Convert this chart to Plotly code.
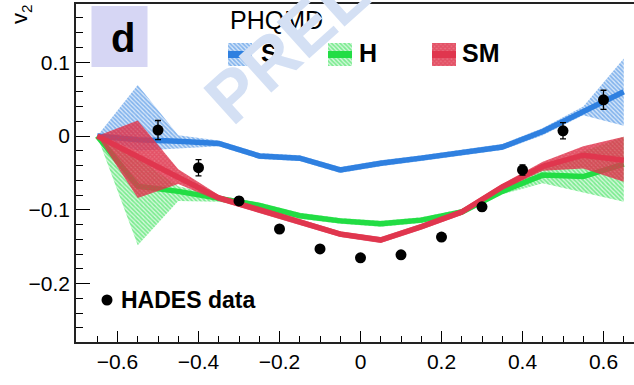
import plotly.graph_objects as go

# ---- HADES measurement: v2 versus rapidity ----
y_data = [-0.5, -0.4, -0.3, -0.2, -0.1, 0.0, 0.1, 0.2, 0.3, 0.4, 0.5, 0.6]
v2_data = [0.008, -0.043, -0.088, -0.126, -0.153, -0.165, -0.161, -0.137, -0.096, -0.046, 0.007, 0.049]
v2_err = [0.013, 0.011, 0.005, 0.004, 0.004, 0.004, 0.004, 0.004, 0.005, 0.007, 0.011, 0.013]

# ---- PHQMD model curves (centre and band edges) ----
y_model = [-0.65, -0.55, -0.45, -0.35, -0.25, -0.15, -0.05, 0.05, 0.15, 0.25, 0.35, 0.45, 0.55, 0.65]

s_mid = [0.0, -0.005, -0.007, -0.010, -0.027, -0.030, -0.046, -0.037, -0.030, -0.023, -0.015, 0.006, 0.033, 0.060]
s_hi = [0.0, 0.069, 0.001, -0.006, -0.023, -0.026, -0.042, -0.033, -0.026, -0.019, -0.011, 0.011, 0.040, 0.105]
s_lo = [0.0, -0.020, -0.017, -0.014, -0.031, -0.034, -0.050, -0.041, -0.034, -0.027, -0.019, 0.001, 0.028, 0.014]

h_mid = [0.0, -0.068, -0.075, -0.085, -0.094, -0.108, -0.115, -0.119, -0.114, -0.103, -0.075, -0.053, -0.055, -0.038]
h_hi = [0.0, -0.030, -0.068, -0.081, -0.090, -0.104, -0.111, -0.115, -0.110, -0.099, -0.071, -0.042, -0.021, -0.001]
h_lo = [0.0, -0.148, -0.088, -0.089, -0.098, -0.112, -0.119, -0.123, -0.118, -0.107, -0.079, -0.064, -0.076, -0.089]

sm_mid = [0.0, -0.028, -0.057, -0.084, -0.100, -0.117, -0.133, -0.141, -0.123, -0.103, -0.069, -0.041, -0.026, -0.033]
sm_hi = [0.0, 0.021, -0.045, -0.080, -0.096, -0.113, -0.129, -0.137, -0.119, -0.099, -0.065, -0.035, -0.014, -0.001]
sm_lo = [0.0, -0.084, -0.065, -0.088, -0.104, -0.121, -0.137, -0.145, -0.127, -0.107, -0.073, -0.047, -0.044, -0.062]

model_names = ["S", "H", "SM"]
model_rgb = [(47, 128, 224), (34, 221, 68), (224, 54, 78)]
hatch_shapes = ["\\", "\\", "x"]
hatch_solidity = [0.55, 0.55, 0.7]
hatch_bg_alpha = [0.2, 0.2, 0.72]

x_ticks = [-0.6, -0.4, -0.2, 0.0, 0.2, 0.4, 0.6]
y_ticks = [-0.2, -0.1, 0.0, 0.1]

# ---- layout geometry (pixels) ----
W, H = 634, 385
M_L, M_R, M_T, M_B = 76, 0, 4, 43
PX_L, PX_R, PX_T, PX_B = M_L, W - M_R, M_T, H - M_B


def px(xp, yp):
    """Pixel position -> paper coordinates of the plot area."""
    return (xp - PX_L) / (PX_R - PX_L), (PX_B - yp) / (PX_B - PX_T)


def rgb(c, a=1.0):
    return f"rgba({c[0]},{c[1]},{c[2]},{a})"


def hatch(c, shp, sol, bga):
    return dict(shape=shp, fgcolor=rgb(c), bgcolor=rgb(c, bga), size=3, solidity=sol)


FONT = "Liberation Sans, Arial, sans-serif"

fig = go.Figure()

mids = [s_mid, h_mid, sm_mid]
his = [s_hi, h_hi, sm_hi]
los = [s_lo, h_lo, sm_lo]

# each model: hatched uncertainty band, then its central line (S, H, SM stacked in that order)
for name, c, mid, hi, lo, shp, sol, bga in zip(model_names, model_rgb, mids, his, los,
                                               hatch_shapes, hatch_solidity, hatch_bg_alpha):
    fig.add_trace(go.Scatter(
        x=y_model + y_model[::-1],
        y=hi + lo[::-1],
        mode="lines", line=dict(width=0, color=rgb(c)),
        fill="toself", fillcolor="rgba(0,0,0,0)",
        fillpattern=hatch(c, shp, sol, bga),
        showlegend=False, hoverinfo="skip", name=name,
    ))
    fig.add_trace(go.Scatter(
        x=y_model, y=mid, mode="lines",
        line=dict(color=rgb(c), width=5.5),
        showlegend=False, name=name,
    ))

# HADES points
fig.add_trace(go.Scatter(
    x=y_data, y=v2_data, mode="markers",
    marker=dict(color="black", size=11, symbol="circle"),
    error_y=dict(type="data", array=v2_err, color="black", thickness=1.3, width=3),
    showlegend=False, name="HADES data",
))

# ---- key, drawn on an overlay axis measured in pixels ----
key_patch_x = [(228, 252), (328, 352), (432, 456)]
key_label_x = [259, 357, 460]
key_top, key_bot, key_mid = 43, 66, 54.5
for name, c, (x0, x1), shp, sol, bga in zip(model_names, model_rgb, key_patch_x,
                                            hatch_shapes, hatch_solidity, hatch_bg_alpha):
    fig.add_trace(go.Scatter(
        x=[x0, x1, x1, x0, x0], y=[key_top, key_top, key_bot, key_bot, key_top],
        xaxis="x2", yaxis="y2", mode="lines", line=dict(width=0, color=rgb(c)),
        fill="toself", fillcolor="rgba(0,0,0,0)",
        fillpattern=hatch(c, shp, sol, bga),
        showlegend=False, hoverinfo="skip",
    ))
    fig.add_trace(go.Scatter(
        x=[x0, x1], y=[key_mid, key_mid], xaxis="x2", yaxis="y2",
        mode="lines", line=dict(color=rgb(c), width=7),
        showlegend=False, hoverinfo="skip",
    ))

fig.add_trace(go.Scatter(
    x=[107], y=[300], xaxis="x2", yaxis="y2", mode="markers",
    marker=dict(color="black", size=11), showlegend=False, hoverinfo="skip",
))

annotations = []
for name, lx in zip(model_names, key_label_x):
    ax, ay = px(lx, 53)
    annotations.append(dict(x=ax, y=ay, xref="paper", yref="paper", text=name,
                            showarrow=False, xanchor="left", yanchor="middle",
                            font=dict(family=FONT, size=25, color="black", weight="bold")))

ax, ay = px(228, 20)
annotations.append(dict(x=ax, y=ay, xref="paper", yref="paper", text="PHQMD",
                        showarrow=False, xanchor="left", yanchor="middle",
                        font=dict(family=FONT, size=25, color="black")))

ax, ay = px(119, 300)
annotations.append(dict(x=ax, y=ay, xref="paper", yref="paper", text="HADES data",
                        showarrow=False, xanchor="left", yanchor="middle",
                        font=dict(family=FONT, size=23, color="black", weight="bold")))

# panel tag
ax, ay = px(122.5, 38)
annotations.append(dict(x=ax, y=ay, xref="paper", yref="paper", text="d",
                        showarrow=False, xanchor="center", yanchor="middle",
                        font=dict(family=FONT, size=40, color="black", weight="bold")))

# y-axis title
ax, ay = px(21, 14)
annotations.append(dict(x=ax, y=ay, xref="paper", yref="paper", text="v<sub>2</sub>",
                        showarrow=False, xanchor="center", yanchor="middle", textangle=-90,
                        font=dict(family=FONT, size=22, color="black")))

# preliminary stamp
ax, ay = px(397, -53)
annotations.append(dict(x=ax, y=ay, xref="paper", yref="paper", text="PRELIMINARY",
                        showarrow=False, xanchor="center", yanchor="middle", textangle=-42,
                        font=dict(family=FONT, size=71, color="rgb(212,224,244)", weight="bold")))

bx0, by0 = px(91.5, 67)
bx1, by1 = px(147.5, 6)
shapes = [dict(type="rect", xref="paper", yref="paper", x0=bx0, x1=bx1, y0=by0, y1=by1,
               fillcolor="#d6d6f4", line=dict(width=0), layer="below")]

x_lo = (PX_L - 360.5) / 405.0
x_hi = (PX_R - 360.5) / 405.0
y_top = (136.0 - PX_T) / 738.0
y_bot = (136.0 - PX_B) / 738.0

fig.update_layout(
    width=W, height=H,
    margin=dict(l=M_L, r=M_R, t=M_T, b=M_B, pad=0),
    paper_bgcolor="white", plot_bgcolor="white",
    font=dict(family=FONT, color="black"),
    showlegend=False,
    annotations=annotations,
    shapes=shapes,
    xaxis=dict(
        range=[x_lo, x_hi], tickvals=x_ticks, ticks="inside", ticklen=11, tickwidth=1.3,
        tickcolor="black", showline=True, linecolor="#222", linewidth=1.5, mirror=True,
        showgrid=False, zeroline=False, tickfont=dict(size=21, family=FONT, color="black"),
        minor=dict(dtick=0.05, tick0=0, ticks="inside", ticklen=6, tickwidth=1.2, tickcolor="black", showgrid=False),
    ),
    yaxis=dict(
        range=[y_bot, y_top], tickvals=y_ticks, ticks="inside", ticklen=14, tickwidth=1.3,
        tickcolor="black", showline=True, linecolor="#222", linewidth=1.5,
        showgrid=False, zeroline=False, tickfont=dict(size=21, family=FONT, color="black"),
        minor=dict(dtick=0.02, tick0=0, ticks="inside", ticklen=7, tickwidth=1.2, tickcolor="black", showgrid=False),
    ),
    xaxis2=dict(range=[PX_L, PX_R], overlaying="x", visible=False, fixedrange=True),
    yaxis2=dict(range=[PX_B, PX_T], overlaying="y", visible=False, fixedrange=True),
)

fig.write_html("out.html")
